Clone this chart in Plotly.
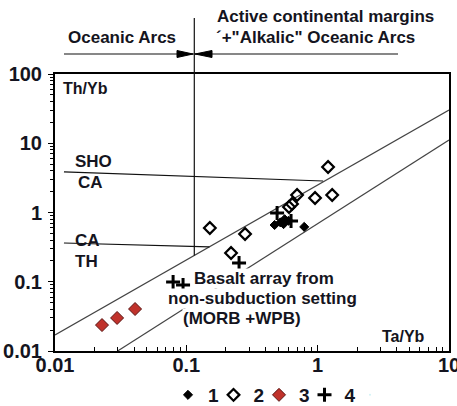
import plotly.graph_objects as go

# ---------------- data ----------------
s1_x = [0.47, 0.52, 0.56, 0.60, 0.55, 0.79]
s1_y = [0.66, 0.72, 0.80, 0.76, 0.68, 0.62]

s2_x = [0.151, 0.280, 0.219, 1.20, 0.697, 0.638, 0.605, 0.955, 1.29]
s2_y = [0.597, 0.489, 0.260, 4.54, 1.79, 1.33, 1.20, 1.62, 1.79]

s3_x = [0.0228, 0.0297, 0.0407]
s3_y = [0.0237, 0.030, 0.0404]

s4_x = [0.0793, 0.0944, 0.252, 0.491, 0.627]
s4_y = [0.099, 0.0898, 0.187, 0.984, 0.754]

series_names = ["1", "2", "3", "4"]

# array boundaries (MORB-OIB array) and field dividers
upper_x = [0.01, 10]
upper_y = [0.017, 30.2]
lower_x = [0.030, 10]
lower_y = [0.01, 11.1]
sho_ca_x = [0.0117, 1.1]
sho_ca_y = [3.85, 2.85]
ca_th_x = [0.0117, 0.15]
ca_th_y = [0.363, 0.318]
divider_x = [0.115, 0.115]
divider_y = [0.24, 100]

x_ticks = [0.01, 0.1, 1, 10]
x_ticktext = ["0.01", "0.1", "1", "10"]
y_ticks = [0.01, 0.1, 1, 10, 100]
y_ticktext = ["0.01", "0.1", "1", "10", "100"]

FONT = "Liberation Sans"
TXT = "#141420"

fig = go.Figure()

for lx, ly, col in [(upper_x, upper_y, "#444444"), (lower_x, lower_y, "#444444"),
                    (sho_ca_x, sho_ca_y, "#111111"), (ca_th_x, ca_th_y, "#111111"),
                    (divider_x, divider_y, "#111111")]:
    fig.add_trace(go.Scatter(x=lx, y=ly, mode="lines", showlegend=False,
                             hoverinfo="skip", line=dict(color=col, width=1.2)))

fig.add_trace(go.Scatter(x=s1_x, y=s1_y, mode="markers", name=series_names[0],
                         marker=dict(symbol="diamond", size=7, color="black",
                                     line=dict(color="black", width=1))))
fig.add_trace(go.Scatter(x=s2_x, y=s2_y, mode="markers", name=series_names[1],
                         marker=dict(symbol="diamond-open", size=9, color="black",
                                     line=dict(color="black", width=2.2))))
fig.add_trace(go.Scatter(x=s3_x, y=s3_y, mode="markers", name=series_names[2],
                         marker=dict(symbol="diamond", size=10, color="#c0322b",
                                     line=dict(color="#5a1412", width=1))))
fig.add_trace(go.Scatter(x=s4_x, y=s4_y, mode="markers", name=series_names[3],
                         marker=dict(symbol="cross-thin", size=10, color="black",
                                     line=dict(color="black", width=3))))
# empty spacer entry so the last legend label is not clipped
fig.add_trace(go.Scatter(x=[None], y=[None], mode="markers", name=" ",
                         marker=dict(size=1, opacity=0), hoverinfo="skip"))

W, H = 457, 406
L, R, T, B = 55, 8, 74, 55
pw, ph = W - L - R, H - T - B


def px(xp):
    return (xp - L) / pw


def py(yp):
    return (H - B - yp) / ph


def ann(text, x, y, xa="left", ya="middle", size=16, bg=None):
    d = dict(text=text, x=x, y=y, xref="paper", yref="paper", xanchor=xa,
             yanchor=ya, showarrow=False,
             font=dict(family=FONT, size=size, color=TXT, weight="bold"))
    if bg:
        d.update(bgcolor=bg, borderpad=0)
    fig.add_annotation(**d)


ann("Th/Yb", px(61), py(88), size=16)
ann("SHO", px(73), py(161), size=17)
ann("CA", px(76), py(182), size=17)
ann("CA", px(73), py(240), size=17)
ann("TH", px(73), py(261), size=17)
ann("Ta/Yb", px(427), py(336), xa="right", size=16)
ann("Basalt array from", px(193), py(278), size=17, bg="white")
ann("non-subduction setting", px(167), py(298), size=17, bg="white")
ann("(MORB +WPB)", px(182), py(318), size=17, bg="white")

ann("Oceanic Arcs", px(122), py(38), xa="center", size=17)
ann("Active continental margins", px(325), py(17), xa="center", size=17)
ann("´+\"Alkalic\" Oceanic Arcs", px(315), py(38), xa="center", size=17)

shapes = []
# header vertical divider above plot
shapes.append(dict(type="line", xref="x", yref="paper", x0=0.115, x1=0.115,
                   y0=1, y1=py(18), line=dict(color="#111111", width=1.2)))
# arrow base line
shapes.append(dict(type="line", xref="paper", yref="paper", x0=px(64), x1=px(398),
                   y0=py(54), y1=py(54), line=dict(color="#111111", width=1.2)))
# arrowheads
shapes.append(dict(type="path", xref="paper", yref="paper",
                   path=f"M {px(177)} {py(50.5)} L {px(193)} {py(54)} L {px(177)} {py(57.5)} Z",
                   fillcolor="black", line=dict(color="black", width=1)))
shapes.append(dict(type="path", xref="paper", yref="paper",
                   path=f"M {px(212)} {py(50.5)} L {px(195)} {py(54)} L {px(212)} {py(57.5)} Z",
                   fillcolor="black", line=dict(color="black", width=1)))

minor_vals = [m * 10 ** e for e in range(-2, 2) for m in range(2, 10)]

fig.update_layout(
    width=W, height=H, template="none",
    margin=dict(l=L, r=R, t=T, b=B, autoexpand=False),
    paper_bgcolor="white", plot_bgcolor="white",
    shapes=shapes,
    showlegend=True,
    legend=dict(orientation="h", x=px(168), xanchor="left", y=py(395),
                yanchor="middle", font=dict(family=FONT, size=19, color=TXT, weight="bold"),
                entrywidth=0.5, entrywidthmode="pixels", itemwidth=30,
                bgcolor="rgba(0,0,0,0)", borderwidth=0),
    xaxis=dict(type="log", range=[-2, 1], tickvals=x_ticks, ticktext=x_ticktext,
               ticks="inside", ticklen=6, tickwidth=1.2, tickcolor="black",
               showline=True, linecolor="black", linewidth=2, mirror=True,
               showgrid=False, zeroline=False, automargin=False,
               ticklabelstandoff=-5, ticklabeloverflow="allow",
               tickfont=dict(family=FONT, size=20, color=TXT, weight="bold"),
               minor=dict(tickvals=minor_vals, ticks="inside", ticklen=4,
                          tickwidth=1, tickcolor="black", showgrid=False)),
    yaxis=dict(type="log", range=[-2, 2], tickvals=y_ticks, ticktext=y_ticktext,
               ticks="outside", ticklen=5, tickwidth=1.2, tickcolor="black",
               showline=True, linecolor="black", linewidth=2, mirror=True,
               showgrid=False, zeroline=False, automargin=False,
               ticklabelstandoff=2, ticklabeloverflow="allow",
               tickfont=dict(family=FONT, size=20, color=TXT, weight="bold"),
               minor=dict(tickvals=minor_vals + [m * 10 for m in range(20, 100, 10)],
                          ticks="outside", ticklen=3,
                          tickwidth=1, tickcolor="black", showgrid=False)),
)

fig.write_html("out.html", config={"displayModeBar": False},
               post_script="document.body.style.margin='0';document.body.style.overflow='hidden';")
